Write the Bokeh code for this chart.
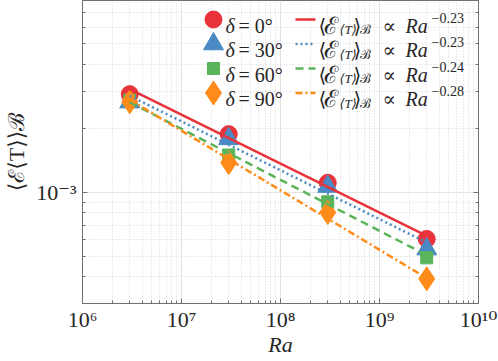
import numpy as np
from bokeh.plotting import figure
from bokeh.models import (Range1d, FixedTicker, LogAxis, Label, CustomJSTickFormatter,
                          LinearScale)
from bokeh.embed import file_html
from bokeh.resources import INLINE

# ---------------- data ----------------
ra = [3e6, 3e7, 3e8, 3e9]
e_d0 = [2.90e-3, 1.88e-3, 1.11e-3, 6.04e-4]
e_d30 = [2.66e-3, 1.785e-3, 1.066e-3, 5.41e-4]
e_d60 = [2.72e-3, 1.50e-3, 0.903e-3, 4.92e-4]
e_d90 = [2.67e-3, 1.38e-3, 0.805e-3, 3.92e-4]
delta_labels = ["0°", "30°", "60°", "90°"]
fit_exponents = [-0.23, -0.23, -0.24, -0.28]
fit_exponent_labels = ["−0.23", "−0.23", "−0.24", "−0.28"]
x_major = [1e6, 1e7, 1e8, 1e9, 1e10]
y_major = [1e-4, 1e-3, 1e-2]

series = [e_d0, e_d30, e_d60, e_d90]
colors = ["#E8333A", "#4A8AC4", "#5AB55A", "#FF8C1A"]
markers = ["circle", "triangle", "square", "diamond"]
msizes = [17, 20, 12, 24]
dashes = ["solid", "2 3", "8 5", "7 3 2 3"]

FONT = "Liberation Serif, DejaVu Serif"
TXT = "#262626"
AX = "#707070"

p = figure(width=498, height=361, x_axis_type="log", y_axis_type="log",
           x_range=Range1d(1e6, 1e10), y_range=Range1d(3e-4, 8e-3),
           output_backend="svg", toolbar_location=None,
           min_border_left=82, min_border_right=20, min_border_top=0,
           min_border_bottom=58)
# pixel-like helper ranges for the legend
p.extra_x_ranges = {"px": Range1d(82, 478)}
p.extra_y_ranges = {"px": Range1d(303, 0)}
p.extra_x_scales = {"px": LinearScale()}
p.extra_y_scales = {"px": LinearScale()}
p.outline_line_color = AX
p.outline_line_width = 1

x_minor = [k * 10.0 ** e for e in range(6, 10) for k in range(2, 10)]
y_minor = [k * 10.0 ** e for e in range(-4, -2) for k in range(2, 10)]
xt = FixedTicker(ticks=x_major, minor_ticks=x_minor)
yt = FixedTicker(ticks=y_major, minor_ticks=y_minor)

fmt = CustomJSTickFormatter(code="""
const sup = {"-":"⁻","0":"⁰","1":"¹","2":"²","3":"³","4":"⁴","5":"⁵","6":"⁶","7":"⁷","8":"⁸","9":"⁹"};
const e = Math.round(Math.log10(tick));
return "10" + String(e).split("").map(c => sup[c]).join("");
""")

def style_axis(ax, ticker, labels=True):
    ax.ticker = ticker
    ax.axis_line_color = AX
    ax.major_tick_line_color = AX
    ax.minor_tick_line_color = AX
    ax.major_tick_in = 5
    ax.major_tick_out = 0
    ax.minor_tick_in = 3
    ax.minor_tick_out = 0
    if labels:
        ax.formatter = fmt
        ax.major_label_text_font = FONT
        ax.major_label_text_font_size = "22px"
        ax.major_label_text_color = TXT
        ax.major_label_standoff = 6
        ax.axis_label_text_font = FONT
        ax.axis_label_text_font_size = "22px"
        ax.axis_label_text_color = TXT
    else:
        ax.formatter = CustomJSTickFormatter(code="return ''")
        ax.major_label_standoff = 0
        ax.major_label_text_font_size = "1px"

style_axis(p.xaxis[0], xt)
style_axis(p.yaxis[0], yt)
p.xaxis[0].major_label_standoff = 3
p.xaxis[0].axis_label = "Ra"
p.xaxis[0].axis_label_text_font_style = "italic"
p.xaxis[0].axis_label_standoff = -3
p.yaxis[0].axis_label = "⟨ℰ⟨T⟩⟩ℬ"
p.yaxis[0].axis_label_text_font_style = "normal"
p.yaxis[0].axis_label_standoff = 4
right = LogAxis()
style_axis(right, yt, labels=False)
p.add_layout(right, "right")

for g, t in ((p.xgrid[0], xt), (p.ygrid[0], yt)):
    g.ticker = t
    g.grid_line_color = "#e3e3e3"
    g.minor_grid_line_color = "#d9d9d9"
    g.minor_grid_line_dash = "1 2"

# ---------------- data markers and power-law fits ----------------
log_ra = np.log10(ra)
for vals, col, mk, ms in zip(series, colors, markers, msizes):
    p.scatter(ra, vals, marker=mk, size=ms, fill_color=col, line_color=col)

for vals, col, dash, b in zip(series, colors, dashes, fit_exponents):
    a = np.mean(np.log10(vals) - b * log_ra)
    xf = [ra[0], ra[-1]]
    yf = [10 ** (a + b * np.log10(x)) for x in xf]
    p.line(xf, yf, line_color=col, line_width=2.5, line_dash=dash)

# ---------------- legend (no frame), in pixel coordinates ----------------
baselines = [25, 49.5, 74, 98.5]
for i, bl in enumerate(baselines):
    cy = bl - 6
    p.scatter([213], [cy], marker=markers[i], size=msizes[i], fill_color=colors[i],
              line_color=colors[i], x_range_name="px", y_range_name="px")
    p.line([295, 315], [cy, cy], line_color=colors[i], line_width=2.5,
           line_dash=dashes[i], x_range_name="px", y_range_name="px")
    pieces = [
        (225, bl, "δ", "20px", "italic"),
        (238, bl, "= " + delta_labels[i], "20px", "normal"),
        (318, bl, "⟨", "20px", "normal"),
        (323, bl, "ℰ", "24px", "normal"),
        (339, bl + 4, "⟨T⟩", "13px", "italic"),
        (353, bl, "⟩", "20px", "normal"),
        (359, bl + 4, "ℬ", "13px", "normal"),
        (382, bl, "∝", "20px", "normal"),
        (405, bl, "Ra", "20px", "italic"),
        (431, bl - 8, fit_exponent_labels[i], "14px", "normal"),
    ]
    for x, y, t, fs, st in pieces:
        p.add_layout(Label(x=x, y=y, text=t, x_range_name="px", y_range_name="px",
                           text_font=FONT, text_font_size=fs, text_font_style=st,
                           text_color=TXT, text_baseline="alphabetic", text_align="left"))

open("out.html", "w").write(file_html(p, INLINE))
